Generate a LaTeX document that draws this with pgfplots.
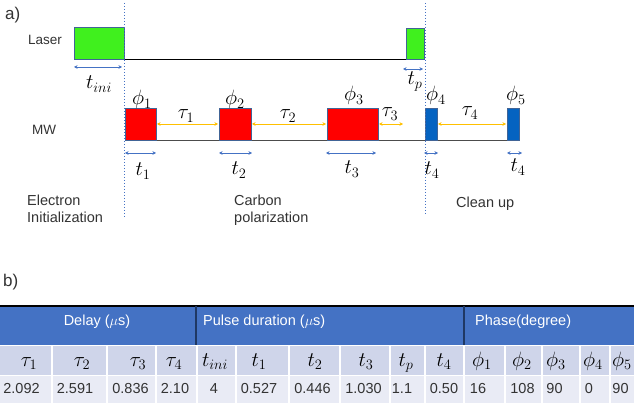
\documentclass[border=0pt]{standalone}
\usepackage{fontspec}
\setmainfont{Liberation Sans}
\usepackage{pgfplots}
\pgfplotsset{compat=1.18}
\usetikzlibrary{arrows.meta}
\definecolor{lgreen}{RGB}{64,240,30}
\definecolor{edge}{RGB}{65,100,150}
\definecolor{mwblue}{RGB}{5,99,193}
\definecolor{arrblue}{RGB}{68,114,196}
\definecolor{arryel}{RGB}{255,192,0}
\definecolor{hdr}{RGB}{68,114,196}
\definecolor{rowa}{RGB}{207,213,234}
\definecolor{rowb}{RGB}{233,235,245}
\definecolor{navy}{RGB}{31,56,100}
\tikzset{
  barrow/.style={arrblue, line width=0.8pt, arrows={Stealth[length=3.5pt,width=3.5pt]-Stealth[length=3.5pt,width=3.5pt]}},
  yarrow/.style={arryel, line width=0.8pt, arrows={Stealth[length=3.5pt,width=3.5pt]-Stealth[length=3.5pt,width=3.5pt]}},
  lbl/.style={inner sep=0pt, font=\fontsize{14.5}{16}\selectfont, text=black!80},
  mth/.style={inner sep=0pt, anchor=base, font=\fontsize{20.74}{22}\selectfont},
  tm/.style={inner sep=0pt, anchor=base, font=\fontsize{20.74}{22}\selectfont},
  tn/.style={inner sep=0pt, anchor=base, font=\fontsize{14.5}{15}\selectfont, text=black!80},
  th/.style={inner sep=0pt, font=\fontsize{14.5}{16}\selectfont, text=white}
}
\newcommand{\pulse}[5]{\addplot[fill=#1, draw=edge, line width=0.8pt] coordinates {(#2,#3) (#4,#3) (#4,#5) (#2,#5)} -- cycle;}
\newcommand{\cell}[5]{\addplot[fill=#1, draw=none] coordinates {(#2,#3) (#4,#3) (#4,#5) (#2,#5)} -- cycle;}
\newcommand{\vsep}[1]{\addplot[white, line width=2pt] coordinates {(#1,345) (#1,403)};}
\begin{document}
\begin{tikzpicture}
\begin{axis}[hide axis, scale only axis, width=634pt, height=403pt,
  xmin=0, xmax=634, ymin=0, ymax=403, y dir=reverse, clip=false]
% background
\cell{white}{0}{0}{634}{403}
% ---------- part a) ----------
\addplot[black, line width=0.9pt] coordinates {(124,59) (406,59)};
\addplot[black!70, line width=0.9pt] coordinates {(125,140) (519,140)};
\pulse{lgreen}{74}{27}{124}{59}
\pulse{lgreen}{406}{28}{424}{59}
\pulse{red}{125}{108}{156}{140}
\pulse{red}{219}{108}{251}{140}
\pulse{red}{327}{108}{378}{140}
\pulse{mwblue}{425}{108}{437}{140}
\pulse{mwblue}{507}{108}{519}{140}
\addplot[arrblue, line width=0.8pt, dash pattern=on 1.5pt off 1.5pt] coordinates {(124,3) (124,217)};
\addplot[arrblue, line width=0.8pt, dash pattern=on 1.5pt off 1.5pt] coordinates {(425,3) (425,216)};
\addplot[barrow] coordinates {(74,67) (122,67)};
\addplot[barrow] coordinates {(403,69) (423,69)};
\addplot[barrow] coordinates {(125,153) (156,153)};
\addplot[barrow] coordinates {(219,153) (252,153)};
\addplot[barrow] coordinates {(326,153) (376,153)};
\addplot[barrow] coordinates {(424,153) (438,153)};
\addplot[barrow] coordinates {(507,153) (522,153)};
\addplot[yarrow] coordinates {(157,124) (218,124)};
\addplot[yarrow] coordinates {(252,124) (326,124)};
\addplot[yarrow] coordinates {(379,124) (403,124)};
\addplot[yarrow] coordinates {(438,124) (506,124)};
\node[lbl, anchor=base west, font=\fontsize{17}{18}\selectfont] at (axis cs:5,20) {a)};
\node[lbl, anchor=base west, font=\fontsize{13.5}{14}\selectfont] at (axis cs:28,45) {Laser};
\node[lbl, anchor=base west, font=\fontsize{13.5}{14}\selectfont] at (axis cs:32,135) {MW};
\node[mth] at (axis cs:99,89) {$t_{ini}$};
\node[mth] at (axis cs:415,85) {$t_p$};
\node[mth] at (axis cs:142,105) {$\phi_1$};
\node[mth] at (axis cs:235,105) {$\phi_2$};
\node[mth] at (axis cs:354,101) {$\phi_3$};
\node[mth] at (axis cs:436,101) {$\phi_4$};
\node[mth] at (axis cs:516,101) {$\phi_5$};
\node[mth] at (axis cs:186,119) {$\tau_1$};
\node[mth] at (axis cs:288,119) {$\tau_2$};
\node[mth] at (axis cs:390,117) {$\tau_3$};
\node[mth] at (axis cs:470,116) {$\tau_4$};
\node[mth] at (axis cs:143,176) {$t_1$};
\node[mth] at (axis cs:239,175) {$t_2$};
\node[mth] at (axis cs:352,174) {$t_3$};
\node[mth] at (axis cs:432,175) {$t_4$};
\node[mth] at (axis cs:518,172) {$t_4$};
\node[lbl, anchor=base west] at (axis cs:27,206) {Electron};
\node[lbl, anchor=base west] at (axis cs:27,223) {Initialization};
\node[lbl, anchor=base west] at (axis cs:234,206) {Carbon};
\node[lbl, anchor=base west] at (axis cs:234,223) {polarization};
\node[lbl, anchor=base west] at (axis cs:456,208) {Clean up};
% ---------- part b) ----------
\node[lbl, anchor=base west, font=\fontsize{17}{18}\selectfont] at (axis cs:3,287) {b)};
\cell{hdr}{0}{306}{634}{345}
\cell{rowa}{0}{345}{634}{375}
\cell{rowb}{0}{376}{634}{403}
\addplot[white, line width=1.5pt] coordinates {(0,375.5) (634,375.5)};
\addplot[white, line width=0.8pt] coordinates {(0,345.5) (634,345.5)};
\vsep{52}\vsep{107}\vsep{156}\vsep{197}\vsep{236}\vsep{289}\vsep{340}
\vsep{390}\vsep{425}\vsep{464}\vsep{505}\vsep{542}\vsep{580}\vsep{610}
\addplot[black, line width=1.5pt] coordinates {(0,306) (634,306)};
\addplot[navy, line width=1.2pt] coordinates {(196,306) (196,345)};
\addplot[navy, line width=1.2pt] coordinates {(464,306) (464,345)};
\node[th, anchor=base] at (axis cs:97,325) {Delay ($\mu$s)};
\node[th, anchor=base west] at (axis cs:203,325) {Pulse duration ($\mu$s)};
\node[th, anchor=base west] at (axis cs:475,325) {Phase(degree)};
\node[tm] at (axis cs:29,366) {$\tau_1$};
\node[tm] at (axis cs:82,366) {$\tau_2$};
\node[tm] at (axis cs:138,366) {$\tau_3$};
\node[tm] at (axis cs:174,366) {$\tau_4$};
\node[tm] at (axis cs:215,366) {$t_{ini}$};
\node[tm] at (axis cs:259,366) {$t_1$};
\node[tm] at (axis cs:315,366) {$t_2$};
\node[tm] at (axis cs:366,366) {$t_3$};
\node[tm] at (axis cs:406,366) {$t_p$};
\node[tm] at (axis cs:444,366) {$t_4$};
\node[tm] at (axis cs:482,366) {$\phi_1$};
\node[tm] at (axis cs:522,366) {$\phi_2$};
\node[tm] at (axis cs:556,366) {$\phi_3$};
\node[tm] at (axis cs:593,366) {$\phi_4$};
\node[tm] at (axis cs:622,366) {$\phi_5$};
\node[tn] at (axis cs:21.5,393) {2.092};
\node[tn] at (axis cs:75,393) {2.591};
\node[tn] at (axis cs:130.5,393) {0.836};
\node[tn] at (axis cs:175,393) {2.10};
\node[tn] at (axis cs:214,393) {4};
\node[tn] at (axis cs:259,393) {0.527};
\node[tn] at (axis cs:312.5,393) {0.446};
\node[tn] at (axis cs:363.5,393) {1.030};
\node[tn] at (axis cs:402,393) {1.1};
\node[tn] at (axis cs:444,393) {0.50};
\node[tn] at (axis cs:478,393) {16};
\node[tn] at (axis cs:522.5,393) {108};
\node[tn] at (axis cs:554.5,393) {90};
\node[tn] at (axis cs:589,393) {0};
\node[tn] at (axis cs:620.5,393) {90};
\end{axis}
\pgfresetboundingbox
\path[use as bounding box] (current axis.south west) rectangle (current axis.north east);
\end{tikzpicture}
\end{document}
